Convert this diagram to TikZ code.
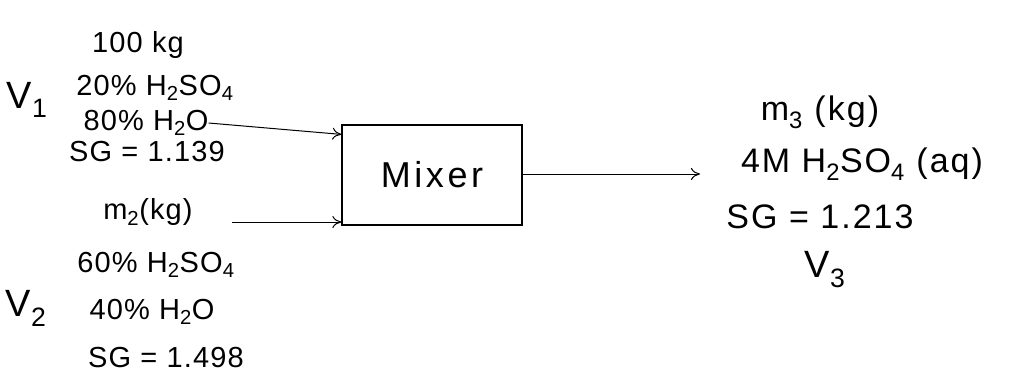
\documentclass[tikz,border=0pt]{standalone}
\usepackage{fontspec}
\setmainfont{Liberation Sans}
\usetikzlibrary{arrows.meta}
\begin{document}
\begin{tikzpicture}[x=1pt,y=-1pt,
  lbl/.style={inner sep=0pt,font=\fontsize{29}{34}\selectfont\addfontfeature{LetterSpace=4}},
  rlbl/.style={inner sep=0pt,font=\fontsize{34}{40}\selectfont\addfontfeature{LetterSpace=6}},
  vlbl/.style={inner sep=0pt,font=\fontsize{38}{44}\selectfont},
  flow/.style={-{To[length=9pt,width=12pt]},line width=1pt},
  unit/.style={draw,line width=1.2pt,minimum width=180pt,minimum height=100pt,inner sep=0pt,
    font=\fontsize{36}{42}\selectfont\addfontfeature{LetterSpace=10}}]
\useasboundingbox (0,0) rectangle (1012,376);
% stream 1
\node[lbl] (a1) at (138,45) {100 kg};
\node[lbl] (a2) at (155,88) {20\% H\textsubscript{2}SO\textsubscript{4}};
\node[vlbl] (v1) at (27,100) {V\textsubscript{1}};
\node[lbl] (a3) at (146,123) {80\% H\textsubscript{2}O};
\node[lbl] (a4) at (147,152) {SG = 1.139};
% stream 2
\node[lbl] (b1) at (148,212) {m\textsubscript{2}(kg)};
\node[lbl] (b2) at (156,265) {60\% H\textsubscript{2}SO\textsubscript{4}};
\node[vlbl] (v2) at (26,308) {V\textsubscript{2}};
\node[lbl] (b3) at (152,312) {40\% H\textsubscript{2}O};
\node[lbl] (b4) at (166,358) {SG = 1.498};
% mixer
\node[unit] (mixer) at (432,175) {Mixer};
% stream 3
\node[rlbl] (c1) at (820,112) {m\textsubscript{3} (kg)};
\node[rlbl] (c2) at (862,164) {4M H\textsubscript{2}SO\textsubscript{4} (aq)};
\node[rlbl] (c3) at (820,217) {SG = 1.213};
\node[vlbl] (v3) at (825,270) {V\textsubscript{3}};
% connectors
\coordinate (s2) at (232,222);
\coordinate (o3) at (700,174);
\draw[flow] (a3.east) -- ([yshift=-10pt]mixer.north west);
\draw[flow] (s2) -- (s2 -| mixer.west);
\draw[flow] (mixer.east |- o3) -- (o3);
\end{tikzpicture}
\end{document}
